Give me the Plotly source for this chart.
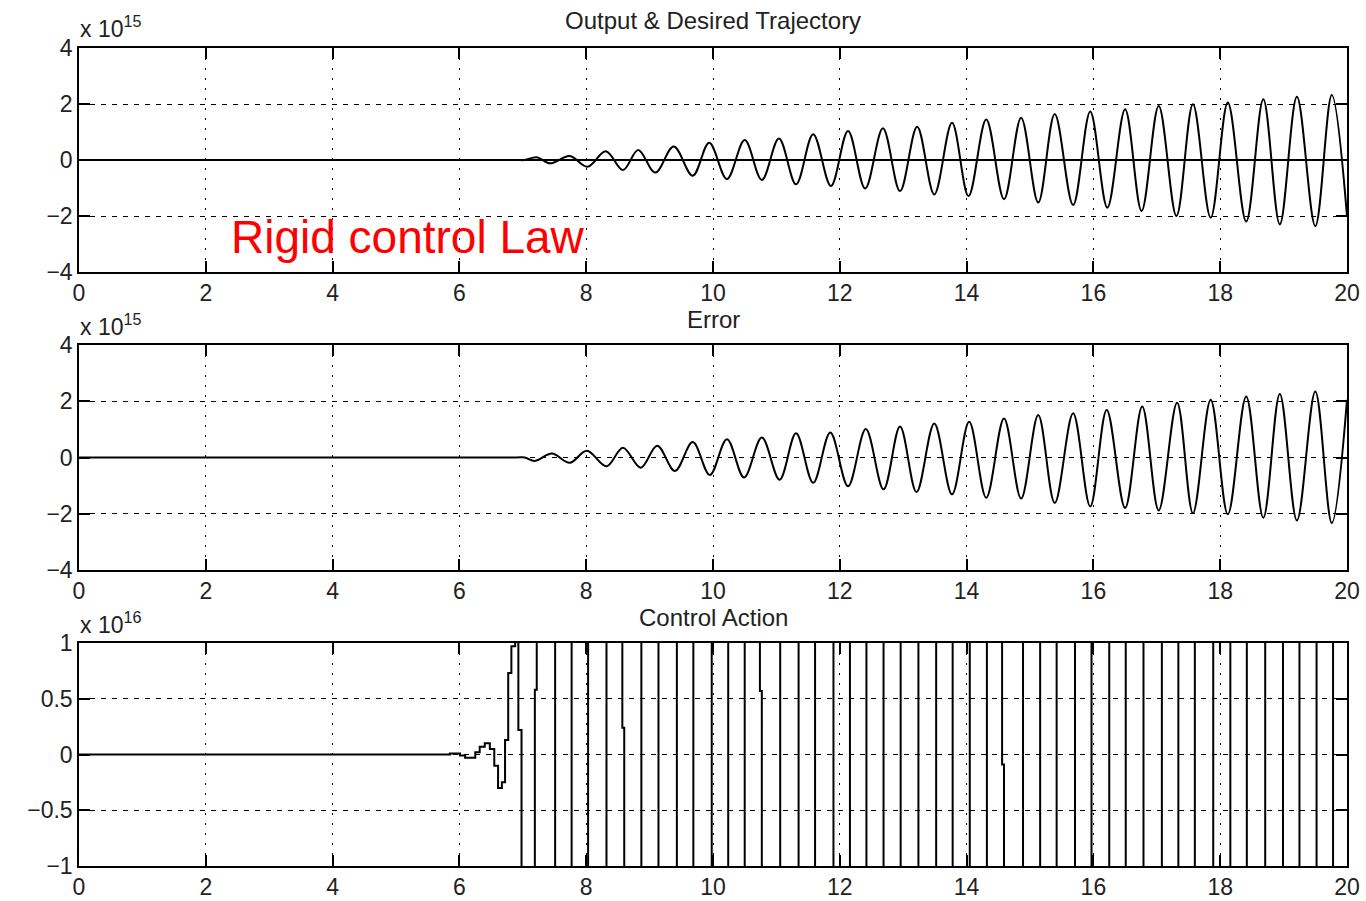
import plotly.graph_objects as go

# ---------------- data (values in display units: x1e15 / x1e16) ----------------
# Panel 1: desired trajectory (flat at this scale) and output (extrema)
desired_t = [0, 20]
desired_y = [0, 0]

output_t = [0, 6.9, 7.03, 7.22, 7.43, 7.74, 8.02, 8.31, 8.58, 8.82, 9.09, 9.38, 9.68, 9.94,
            10.22, 10.50, 10.77, 11.04, 11.31, 11.58, 11.86, 12.13, 12.40, 12.68, 12.95,
            13.22, 13.49, 13.77, 14.03, 14.31, 14.59, 14.86, 15.13, 15.39, 15.68, 15.95,
            16.22, 16.50, 16.76, 17.03, 17.31, 17.57, 17.85, 18.12, 18.41, 18.68, 18.94,
            19.21, 19.50, 19.76, 20.0]
output_y = [0, 0, 0, 0.10, -0.12, 0.14, -0.24, 0.31, -0.36, 0.36, -0.45, 0.48, -0.56, 0.62,
            -0.68, 0.71, -0.71, 0.77, -0.87, 0.92, -0.93, 1.04, -1.02, 1.13, -1.11,
            1.19, -1.23, 1.33, -1.29, 1.45, -1.40, 1.51, -1.52, 1.64, -1.61, 1.73,
            -1.70, 1.81, -1.82, 1.93, -2.00, 1.99, -2.06, 2.05, -2.20, 2.17, -2.30,
            2.26, -2.36, 2.32, -2.00]

# Panel 2: error
error_t = [0, 6.9, 7.03, 7.19, 7.46, 7.74, 8.01, 8.32, 8.58, 8.86, 9.12, 9.40, 9.68, 9.95,
           10.22, 10.49, 10.77, 11.05, 11.31, 11.58, 11.85, 12.13, 12.41, 12.69, 12.95,
           13.21, 13.49, 13.77, 14.04, 14.31, 14.59, 14.86, 15.13, 15.39, 15.68, 15.95,
           16.21, 16.50, 16.77, 17.03, 17.32, 17.57, 17.85, 18.12, 18.41, 18.68, 18.94,
           19.21, 19.50, 19.76, 20.0]
error_y = [0, 0, 0, -0.12, 0.14, -0.19, 0.24, -0.31, 0.35, -0.36, 0.42, -0.48, 0.55, -0.62,
           0.65, -0.71, 0.71, -0.79, 0.86, -0.90, 0.89, -1.02, 1.01, -1.13, 1.10,
           -1.23, 1.21, -1.31, 1.27, -1.43, 1.39, -1.46, 1.51, -1.62, 1.57, -1.74,
           1.69, -1.79, 1.81, -1.88, 1.95, -1.98, 2.05, -2.02, 2.17, -2.14, 2.26,
           -2.24, 2.35, -2.33, 2.05]

# Panel 3: control action (zero-order hold samples; saturated values lie off-scale)
ctrl_t = [0, 5.85, 6.01, 6.09, 6.17, 6.25, 6.32, 6.40, 6.48, 6.55, 6.61, 6.67, 6.72, 6.77,
          6.82, 6.88, 6.93, 6.98,
          7.19, 7.22, 7.51, 7.77, 8.03, 8.32, 8.57, 8.60, 8.87, 9.14, 9.43, 9.69, 9.98,
          10.24, 10.50, 10.74, 10.77, 11.06, 11.35, 11.61, 11.90, 12.16, 12.42, 12.69,
          12.96, 13.24, 13.52, 13.78, 14.05, 14.32, 14.56, 14.59, 14.89, 15.16, 15.42,
          15.71, 15.97, 16.25, 16.51, 16.79, 17.08, 17.34, 17.60, 17.89, 18.16, 18.42,
          18.71, 18.99, 19.25, 19.52, 19.78, 20.0]
ctrl_u = [0, 0.01, -0.01, -0.03, -0.03, 0.02, 0.07, 0.10, 0.05, -0.10, -0.30, -0.25, 0.13,
          0.73, 0.97, 1.02, 0.22, -3.0,
          0.58, 3.0, -3.0, 3.0, -3.0, 3.0, 0.24, -3.0, 3.0, -3.0, 3.0, -3.0, 3.0,
          -3.0, 3.0, 0.57, -3.0, 3.0, -3.0, 3.0, -3.0, 3.0, -3.0, 3.0,
          -3.0, 3.0, -3.0, 3.0, -3.0, 3.0, -0.09, -3.0, 3.0, -3.0, 3.0,
          -3.0, 3.0, -3.0, 3.0, -3.0, 3.0, -3.0, 3.0, -3.0, 3.0, -3.0,
          3.0, -3.0, 3.0, -3.0, 3.0, 3.0]

x_ticks = [0, 2, 4, 6, 8, 10, 12, 14, 16, 18, 20]
y_ticks_12 = [-4, -2, 0, 2, 4]
y_ticks_3 = [-1, -0.5, 0, 0.5, 1]
y_ticktext_3 = ["\u22121", "\u22120.5", "0", "0.5", "1"]
y_ticktext_12 = ["\u22124", "\u22122", "0", "2", "4"]
titles = ["Output & Desired Trajectory", "Error", "Control Action"]
exponents = ["15", "15", "16"]

# ---------------- figure ----------------
W, H = 1366, 901
FONT = "Liberation Sans, Arial, sans-serif"
LINE = dict(color="black", width=2)

fig = go.Figure()
fig.add_trace(go.Scatter(x=desired_t, y=desired_y, mode="lines", line=LINE,
                         xaxis="x", yaxis="y", showlegend=False))
fig.add_trace(go.Scatter(x=output_t, y=output_y, mode="lines",
                         line=dict(color="black", width=2, shape="spline", smoothing=1.0),
                         xaxis="x", yaxis="y", showlegend=False))
fig.add_trace(go.Scatter(x=error_t, y=error_y, mode="lines",
                         line=dict(color="black", width=2, shape="spline", smoothing=1.0),
                         xaxis="x2", yaxis="y2", showlegend=False))
fig.add_trace(go.Scatter(x=ctrl_t, y=ctrl_u, mode="lines",
                         line=dict(color="black", width=2, shape="hv"),
                         xaxis="x3", yaxis="y3", showlegend=False))

x0, x1 = 79 / W, 1347 / W
panels_px = [(48, 272), (345, 570), (643, 866)]
doms = [[1 - b / H, 1 - t / H] for t, b in panels_px]

TICKFONT = dict(family=FONT, size=23, color="#222")
common_x = dict(range=[0, 20], tickvals=x_ticks, ticks="inside", ticklen=11, tickwidth=1.5,
                tickcolor="black", showline=True, linecolor="black", linewidth=1.5,
                mirror="allticks", showgrid=True, gridcolor="black", gridwidth=1,
                griddash="2px,8px", zeroline=False, automargin=False,
                tickfont=TICKFONT, domain=[x0, x1])
common_y = dict(ticks="inside", ticklen=11, tickwidth=1.5, tickcolor="black", showline=True,
                linecolor="black", linewidth=1.5, mirror="allticks", showgrid=True,
                gridcolor="black", gridwidth=1, griddash="5px,6px", zeroline=False,
                automargin=False, tickfont=TICKFONT)

layout = dict(width=W, height=H, margin=dict(l=0, r=0, t=0, b=0, autoexpand=False),
              paper_bgcolor="white", plot_bgcolor="white", showlegend=False,
              template="none")
for i in range(3):
    sx = "" if i == 0 else str(i + 1)
    xa = dict(common_x, anchor="y" + sx)
    if i < 2:
        ya = dict(common_y, range=[-4, 4], tickvals=y_ticks_12, ticktext=y_ticktext_12)
    else:
        ya = dict(common_y, range=[-1, 1], tickvals=y_ticks_3, ticktext=y_ticktext_3)
    ya.update(domain=doms[i], anchor="x" + sx)
    layout["xaxis" + sx] = xa
    layout["yaxis" + sx] = ya

annotations = []
title_y_px = [20, 319, 617]
expo_y_px = [27, 325, 623]
for i in range(3):
    annotations.append(dict(text=titles[i], x=713 / W, y=1 - title_y_px[i] / H, xref="paper",
                            yref="paper", xanchor="center", yanchor="middle", showarrow=False,
                            font=dict(family=FONT, size=24, color="#222")))
    annotations.append(dict(text="x 10<sup>" + exponents[i] + "</sup>", x=78 / W,
                            y=1 - expo_y_px[i] / H, xref="paper", yref="paper",
                            xanchor="left", yanchor="middle", showarrow=False,
                            font=dict(family=FONT, size=23, color="#222")))
annotations.append(dict(text="Rigid control Law", x=229 / W, y=1 - 237 / H, xref="paper",
                        yref="paper", xanchor="left", yanchor="middle", showarrow=False,
                        font=dict(family=FONT, size=46, color="red")))
layout["annotations"] = annotations

fig.update_layout(**layout)
fig.write_html("out.html")
